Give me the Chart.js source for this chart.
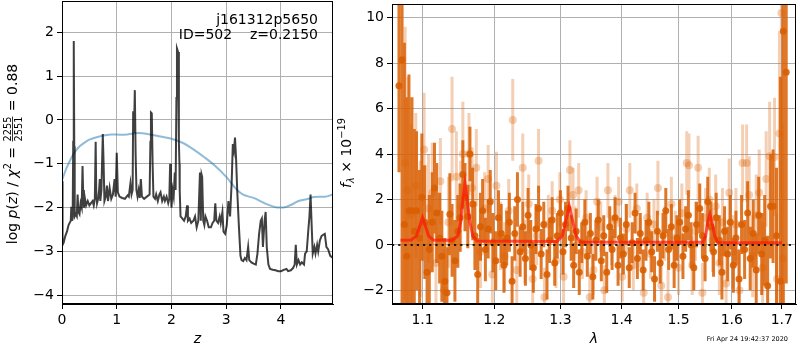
<!DOCTYPE html>
<html>
<head>
<meta charset="utf-8">
<script src="https://cdn.jsdelivr.net/npm/chart.js@4.4.0/dist/chart.umd.min.js"></script>
<style>
  body { margin: 0; background: #fff; }
  #wrap { position: relative; width: 800px; height: 350px; }
  canvas { position: absolute; top: 0; }
  #pz { left: 0; }
  #sp { left: 336px; }
</style>
</head>
<body>
<div id="wrap">
  <canvas id="pz" width="336" height="350"></canvas>
  <canvas id="sp" width="464" height="350"></canvas>
</div>
<script>
// ---- left panel: log p(z) ----
const zPz = [0, 0.01, 0.03, 0.06, 0.09, 0.12, 0.14, 0.16, 0.17, 0.18, 0.195, 0.205, 0.212, 0.218, 0.224, 0.232, 0.25, 0.27, 0.285, 0.3,
  0.32, 0.34, 0.36, 0.375, 0.385, 0.4, 0.42, 0.44, 0.47, 0.5, 0.53, 0.56, 0.58, 0.6, 0.615, 0.625, 0.64, 0.67, 0.69, 0.7,
  0.72, 0.745, 0.76, 0.775, 0.8, 0.82, 0.84, 0.87, 0.9, 0.93, 0.96, 0.98, 1.0, 1.02, 1.05, 1.1, 1.15, 1.18, 1.2, 1.22,
  1.25, 1.27, 1.29, 1.3, 1.315, 1.33, 1.345, 1.36, 1.38, 1.4, 1.42, 1.44, 1.46, 1.5, 1.55, 1.6, 1.615, 1.625, 1.64, 1.655,
  1.67, 1.7, 1.72, 1.75, 1.78, 1.8, 1.83, 1.86, 1.88, 1.91, 1.94, 1.96, 1.975, 1.99, 2.0, 2.02, 2.04, 2.06, 2.075, 2.09,
  2.1, 2.12, 2.135, 2.145, 2.15, 2.165, 2.2, 2.23, 2.26, 2.285, 2.3, 2.33, 2.36, 2.4, 2.43, 2.46, 2.49, 2.52, 2.535, 2.55,
  2.56, 2.58, 2.6, 2.62, 2.65, 2.68, 2.72, 2.75, 2.78, 2.8, 2.82, 2.85, 2.88, 2.9, 2.93, 2.95, 2.98, 3.01, 3.04, 3.07,
  3.1, 3.12, 3.14, 3.16, 3.18, 3.2, 3.23, 3.26, 3.28, 3.31, 3.34, 3.37, 3.4, 3.42, 3.46, 3.5, 3.54, 3.57, 3.6, 3.63,
  3.65, 3.67, 3.7, 3.72, 3.74, 3.77, 3.8, 3.85, 3.9, 3.95, 4.0, 4.05, 4.1, 4.13, 4.18, 4.22, 4.25, 4.27, 4.29, 4.32,
  4.35, 4.38, 4.42, 4.44, 4.47, 4.5, 4.52, 4.54, 4.56, 4.58, 4.61, 4.63, 4.66, 4.68, 4.71, 4.74, 4.77, 4.8, 4.83, 4.86,
  4.9, 4.95];
const logPz = [-1.4, -2.85, -2.8, -2.65, -2.55, -2.4, -2.35, -2.3, -1.98, -2.3, -2.2, -0.5, 1.8, 1.78, -0.6, -2.2, -2.15, -2.2, -1.7, -2.1,
  -2.15, -1.9, -2.0, -1.05, -1.6, -2.0, -1.8, -1.95, -1.85, -1.95, -1.9, -1.85, -1.95, -1.8, -0.5, -1.6, -1.9, -1.75, -1.35, -1.85,
  -1.6, -0.32, -1.0, -1.85, -1.75, -1.5, -1.85, -1.55, -1.8, -1.7, -1.35, -1.75, -0.75, -1.65, -1.75, -1.78, -1.8, -1.75, -1.72, -1.75,
  -1.45, -1.7, -1.6, 0.2, -0.3, 0.68, -0.8, -1.6, -1.75, -1.6, -1.78, -1.35, -1.75, -1.8, -1.75, -1.7, -0.5, 0.17, 0.15, -1.0,
  -1.75, -1.8, -1.7, -1.85, -1.7, -1.65, -1.85, -1.75, -1.85, -1.75, -1.9, -1.8, -1.0, -1.7, -2.0, -1.6, -1.75, -1.2, -1.6, 0.5,
  1.63, 1.55, -0.5, -1.0, -1.6, -2.2, -2.25, -2.3, -2.2, -1.95, -2.3, -2.25, -2.35, -2.3, -2.2, -2.45, -2.3, -1.2, -2.3, -1.25,
  -1.3, -2.3, -2.4, -2.2, -2.3, -2.45, -2.45, -2.35, -2.3, -1.9, -2.3, -2.35, -2.2, -2.35, -2.1, -2.55, -2.6, -2.4, -1.85, -2.2,
  -1.4, -0.55, -0.7, -0.4, -0.9, -1.6, -2.4, -3.1, -3.2, -3.22, -3.15, -3.2, -2.9, -3.2, -3.25, -3.28, -3.3, -3.05, -2.6, -2.3,
  -2.25, -2.9, -2.3, -2.1, -2.9, -3.3, -3.4, -3.42, -3.43, -3.45, -3.45, -3.42, -3.4, -3.45, -3.43, -3.38, -3.3, -2.85, -3.3, -3.2,
  -3.3, -3.25, -3.3, -3.05, -3.0, -2.5, -2.2, -1.7, -2.4, -3.05, -2.9, -3.05, -2.85, -3.0, -2.75, -2.65, -2.62, -2.6, -2.9, -2.95,
  -3.1, -3.15];

const zPrior = [0, 0.05, 0.1, 0.2, 0.3, 0.4, 0.5, 0.7, 0.9, 1.1, 1.2, 1.4, 1.6, 1.8, 2.0, 2.2, 2.4, 2.6, 2.8, 3.0,
  3.2, 3.3, 3.5, 3.7, 3.9, 4.0, 4.1, 4.2, 4.3, 4.5, 4.6, 4.7, 4.8, 4.95];
const logPrior = [-1.38, -1.2, -1.05, -0.8, -0.63, -0.53, -0.45, -0.37, -0.33, -0.34, -0.33, -0.3, -0.33, -0.38, -0.43, -0.52, -0.67, -0.85, -1.05, -1.3,
  -1.6, -1.7, -1.78, -1.9, -1.99, -2.0, -1.98, -1.93, -1.86, -1.8, -1.76, -1.75, -1.75, -1.7];

const zTicks = [0, 1, 2, 3, 4];
const pzTicks = [-4, -3, -2, -1, 0, 1, 2];

// ---- right panel: spectrum ----
const lamA = [1.069, 1.073, 1.076, 1.079, 1.082, 1.086, 1.089, 1.092, 1.096, 1.099, 1.103, 1.106, 1.109, 1.113, 1.116, 1.119, 1.123, 1.126, 1.130, 1.133,
  1.137, 1.140, 1.144, 1.148, 1.151, 1.155, 1.158, 1.162, 1.165, 1.169, 1.172, 1.176, 1.180, 1.183, 1.187, 1.191, 1.194, 1.198, 1.202, 1.206,
  1.210, 1.214, 1.218, 1.222, 1.226, 1.230, 1.234, 1.238, 1.242, 1.246, 1.250, 1.254, 1.258, 1.262, 1.266, 1.270, 1.274, 1.279, 1.283, 1.287,
  1.291, 1.295, 1.300, 1.304, 1.308, 1.312, 1.317, 1.321, 1.325, 1.330, 1.334, 1.339, 1.343, 1.348, 1.352, 1.357, 1.361, 1.366, 1.370, 1.375,
  1.380, 1.384, 1.389, 1.394, 1.398, 1.403, 1.408, 1.413, 1.418, 1.423, 1.427, 1.432, 1.437, 1.442, 1.447, 1.452, 1.457, 1.462, 1.467, 1.472,
  1.477, 1.482, 1.487, 1.492, 1.497, 1.502, 1.508, 1.513, 1.518, 1.523, 1.528, 1.533, 1.539, 1.544, 1.549, 1.554, 1.560, 1.565, 1.570, 1.576,
  1.581, 1.586, 1.592, 1.597, 1.603, 1.608, 1.614, 1.619, 1.625, 1.631, 1.636, 1.642, 1.648, 1.653, 1.659, 1.665, 1.671, 1.677, 1.682, 1.689,
  1.697, 1.703, 1.709];
const fluxA = [7.0, 8.15, 0.9, -0.5, 1.5, 1.5, 0.6, 1.5, 0.3, 2.1, 1.0, -1.2, -0.2, 1.0, 2.5, 1.4, 0.3, -0.5, -1.6, -2.1,
  1.35, 0.2, -0.7, 0.6, 1.2, 3.1, 2.1, 1.25, 4.0, 1.8, 0.4, -1.3, 0.8, 1.5, -0.2, 0.7, 1.9, 0.1, -0.7, 1.2,
  0.5, -0.9, 0.3, 1.0, -1.6, 0.5, 2.0, -0.3, 0.8, -0.6, 1.3, 0.0, -1.0, 0.7, 1.6, -0.4, 0.9, -1.3, 0.2, 1.1,
  -0.8, 0.4, 1.4, -0.3, 0.9, 1.6, 0.3, -0.9, 0.6, -1.2, 0.1, 1.0, -0.5, 0.5, -1.4, 0.2, 1.1, -0.7, 0.4, -1.2,
  0.8, -0.2, 1.2, -0.9, 0.3, -0.4, 0.9, -1.0, 0.1, 1.4, -0.6, 0.5, -1.1, 0.2, 1.0, -0.3, -1.5, 0.6, -0.8, 0.4,
  1.5, -0.2, 0.8, -0.9, 0.3, 1.0, -0.5, 0.7, 1.3, 0.0, -1.0, 0.9, 1.6, 0.4, -0.6, 1.9, 0.8, -0.3, 1.2, 0.2,
  -1.2, 0.6, -0.4, 1.0, -0.9, 0.3, -1.5, 0.9, -0.2, 1.4, -0.6, 0.5, -1.1, 1.3, -0.4, 0.2, -1.8, 1.7, 1.7, 0.4,
  -1.6, 9.4, 7.6];
const errA = [3.8, 11, 8, 7, 6, 5, 4.5, 3.5, 3.0, 2.8, 2.5, 2.2, 2.4, 2.2, 2.0, 2.2, 2.0, 2.0, 1.9, 2.0,
  1.8, 1.6, 1.8, 1.6, 1.5, 1.5, 1.5, 1.4, 1.2, 1.6, 1.5, 1.6, 1.5, 1.4, 1.4, 1.3, 1.4, 1.3, 1.3, 1.2,
  1.3, 1.2, 1.2, 1.3, 1.1, 1.2, 1.2, 1.1, 1.1, 1.2, 1.2, 1.1, 1.1, 1.1, 1.0, 1.1, 1.0, 1.1, 1.0, 1.0,
  1.0, 1.0, 1.0, 1.0, 1.0, 1.0, 1.0, 1.0, 1.0, 1.0, 0.9, 1.0, 0.9, 0.9, 1.0, 0.9, 0.9, 0.9, 0.9, 0.9,
  0.9, 0.9, 0.9, 0.9, 0.9, 0.9, 0.9, 0.9, 0.9, 0.9, 0.9, 0.9, 0.9, 0.9, 0.9, 0.9, 1.0, 0.9, 0.9, 1.0,
  1.0, 0.9, 1.0, 1.0, 1.0, 1.0, 1.0, 1.0, 1.1, 1.0, 1.0, 1.0, 1.1, 1.0, 1.0, 1.1, 1.1, 1.1, 1.1, 1.1,
  1.2, 1.1, 1.2, 1.2, 1.2, 1.2, 1.3, 1.3, 1.3, 1.4, 1.4, 1.5, 1.6, 1.7, 1.8, 2.0, 2.2, 2.3, 2.5, 3.0,
  9, 12, 9.3];

const lamB = [1.077, 1.080, 1.085, 1.091, 1.097, 1.102, 1.108, 1.113, 1.118, 1.124, 1.129, 1.135, 1.140, 1.146, 1.152, 1.155, 1.1636, 1.168, 1.174, 1.180,
  1.186, 1.191, 1.197, 1.203, 1.209, 1.215, 1.221, 1.227, 1.233, 1.242, 1.245, 1.251, 1.257, 1.263, 1.266, 1.275, 1.281, 1.287, 1.293, 1.299,
  1.305, 1.315, 1.320, 1.323, 1.329, 1.335, 1.341, 1.347, 1.353, 1.359, 1.365, 1.371, 1.377, 1.383, 1.389, 1.395, 1.401, 1.408, 1.414, 1.420,
  1.426, 1.432, 1.438, 1.444, 1.450, 1.456, 1.463, 1.469, 1.475, 1.481, 1.487, 1.494, 1.500, 1.506, 1.515, 1.519, 1.525, 1.531, 1.536, 1.544,
  1.550, 1.557, 1.563, 1.569, 1.576, 1.582, 1.589, 1.595, 1.602, 1.608, 1.615, 1.621, 1.629, 1.634, 1.641, 1.648, 1.654, 1.661, 1.668, 1.675,
  1.685, 1.690, 1.695, 1.699, 1.702];
const fluxB = [3.6, 2.4, 1.3, 2.6, 0.7, 4.2, 1.6, 2.3, -0.8, 2.8, -2.0, 1.0, 5.1, 3.0, 1.7, 4.0, 4.0, 2.5, 3.4, -0.3,
  1.6, 2.9, -1.3, 2.6, 0.4, -0.5, 1.5, 5.5, -1.1, 3.4, -0.3, 1.8, -1.5, 0.4, 3.7, -2.3, 0.9, 1.5, -0.7, 2.0,
  -1.4, 3.3, 2.2, 0.5, 2.4, -0.3, 1.2, -2.3, -1.1, 1.9, 0.8, -2.0, 2.4, 0.2, 1.1, 1.9, -1.4, 0.7, 2.4, -0.9,
  1.6, 0.1, -2.1, 1.2, -0.4, 0.9, 2.5, -1.8, 0.5, -2.3, 1.8, 0.3, -1.0, 1.4, 3.6, 3.5, -0.9, 0.6, 3.4, -2.1,
  1.2, 2.0, 0.2, 1.7, -0.8, 1.0, -1.7, 2.3, -0.3, 0.9, -2.0, 3.6, 3.6, 2.2, -0.5, 1.3, 2.3, -1.0, 2.9, 3.9,
  3.87, -1.5, 4.9, 10.2, -0.6];
const errB = [6, 5, 4, 3.2, 3.0, 2.5, 2.4, 2.2, 2.0, 1.9, 1.8, 2.0, 2.3, 2.0, 2.0, 2.3, 1.8, 1.8, 1.7, 1.6,
  1.6, 1.5, 1.6, 1.5, 1.5, 1.5, 1.4, 1.8, 1.5, 1.5, 1.4, 1.3, 1.4, 1.3, 1.4, 1.3, 1.3, 1.3, 1.2, 1.2,
  1.2, 1.3, 1.2, 1.2, 1.2, 1.2, 1.2, 1.1, 1.1, 1.1, 1.1, 1.1, 1.2, 1.1, 1.1, 1.1, 1.1, 1.1, 1.2, 1.1,
  1.1, 1.1, 1.1, 1.1, 1.1, 1.1, 1.2, 1.2, 1.2, 1.2, 1.2, 1.2, 1.2, 1.3, 1.4, 1.4, 1.3, 1.3, 1.4, 1.3,
  1.3, 1.4, 1.4, 1.4, 1.4, 1.5, 1.5, 1.5, 1.6, 1.6, 1.6, 1.7, 1.7, 1.7, 1.8, 1.8, 1.9, 2.0, 2.1, 2.4,
  2.6, 2.9, 4.5, 8, 6];

const lamModel = [1.071, 1.085, 1.092, 1.096, 1.100, 1.104, 1.108, 1.114, 1.140, 1.148, 1.152, 1.155, 1.158, 1.161, 1.165, 1.169, 1.175, 1.295, 1.303, 1.309,
  1.314, 1.319, 1.325, 1.332, 1.545, 1.550, 1.554, 1.558, 1.562, 1.567, 1.573, 1.700];
const fluxModel = [0.2, 0.22, 0.4, 0.8, 1.2, 0.8, 0.4, 0.22, 0.2, 0.4, 1.0, 2.0, 2.7, 2.0, 1.0, 0.4, 0.17, 0.15, 0.4, 1.1,
  1.7, 1.1, 0.4, 0.13, 0.12, 0.4, 1.0, 1.35, 1.0, 0.4, 0.1, 0.1];

const lamTicks = [1.1, 1.2, 1.3, 1.4, 1.5, 1.6, 1.7];
const fluxTicks = [-2, 0, 2, 4, 6, 8, 10];

const FONT = '"DejaVu Sans", sans-serif';
const ORANGE = '217,95,2';

function minus(v) {
  return String(v).replace('-', '\u2212');
}

function errSegments(lam, flux, err) {
  const pts = [];
  lam.forEach((l, i) => {
    pts.push({ x: l, y: flux[i] - err[i] }, { x: l, y: flux[i] + err[i] }, { x: l, y: null });
  });
  return pts;
}

function pairs(xs, ys) {
  return xs.map((x, i) => ({ x: x, y: ys[i] }));
}

// mixed-style text, rotated 90deg, centred on (cx, cy)
function richText(ctx, parts, cx, cy) {
  ctx.save();
  ctx.translate(cx, cy);
  ctx.rotate(-Math.PI / 2);
  ctx.textBaseline = 'alphabetic';
  ctx.textAlign = 'left';
  ctx.fillStyle = '#000';
  let w = 0;
  parts.forEach(p => {
    ctx.font = p.font;
    if (p.frac) {
      p.w = Math.max(ctx.measureText(p.frac[0]).width, ctx.measureText(p.frac[1]).width) + 2;
    } else {
      p.w = ctx.measureText(p.t).width;
    }
    w += p.w;
  });
  let x = -w / 2;
  parts.forEach(p => {
    ctx.font = p.font;
    if (p.frac) {
      ctx.textAlign = 'center';
      ctx.fillText(p.frac[0], x + p.w / 2, -6);
      ctx.fillText(p.frac[1], x + p.w / 2, 4.5);
      ctx.fillRect(x + 1, -4.8, p.w - 2, 0.8);
      ctx.textAlign = 'left';
    } else {
      ctx.fillText(p.t, x, p.dy || 0);
    }
    x += p.w;
  });
  ctx.restore();
}

function frame(chart) {
  const a = chart.chartArea;
  const ctx = chart.ctx;
  ctx.save();
  ctx.strokeStyle = '#000';
  ctx.lineWidth = 1;
  ctx.strokeRect(Math.round(a.left) + 0.5, Math.round(a.top) + 0.5, Math.round(a.right - a.left) - 1, Math.round(a.bottom - a.top) - 1);
  ctx.restore();
}

function axisStyle(extra) {
  return Object.assign({
    bounds: 'data',
    grid: { color: '#b0b0b0', lineWidth: 1, tickColor: '#000', tickLength: 5, drawTicks: true },
    border: { display: true, color: '#000', width: 1 },
    ticks: { color: '#000', font: { family: FONT, size: 14 }, padding: 3, autoSkip: false, maxRotation: 0, callback: v => minus(v) }
  }, extra);
}

// fixed axis boxes so the plot areas land where the reference has them
function fixX(s) { s.height = 46; s.paddingLeft = 0; s.paddingRight = 0; }
function fixY(w) { return s => { s.width = w; s.paddingTop = 0; s.paddingBottom = 0; }; }

const N = '14px ' + FONT;
const I = 'italic 14px ' + FONT;
const S = '9.8px ' + FONT;
const SI = 'italic 9.8px ' + FONT;

const pzLabels = {
  id: 'pzLabels',
  afterDraw(chart) {
    frame(chart);
    const ctx = chart.ctx;
    ctx.save();
    ctx.fillStyle = '#000';
    ctx.font = N;
    ctx.textAlign = 'right';
    ctx.textBaseline = 'middle';
    ctx.fillText('j161312p5650', 318, 20);
    ctx.fillText('ID=502    z=0.2150', 318, 35);
    ctx.restore();
    richText(ctx, [
      { t: 'log ', font: N }, { t: 'p', font: I }, { t: '(', font: N }, { t: 'z', font: I },
      { t: ') / ', font: N }, { t: '\u03c7', font: I }, { t: '2', font: S, dy: -6 }, { t: ' = ', font: N },
      { frac: ['2255', '2551'], font: S }, { t: ' = 0.88', font: N }
    ], 17, 154);
  }
};

const spLabels = {
  id: 'spLabels',
  afterDraw(chart) {
    frame(chart);
    const ctx = chart.ctx;
    richText(ctx, [
      { t: 'f', font: I }, { t: '\u03bb', font: SI, dy: 3 }, { t: ' \u00d7 10', font: N }, { t: '\u221219', font: S, dy: -6 }
    ], 15, 153);
    ctx.save();
    ctx.fillStyle = '#000';
    ctx.font = '6.5px ' + FONT;
    ctx.textAlign = 'right';
    ctx.textBaseline = 'middle';
    ctx.fillText('Fri Apr 24 19:42:37 2020', 452, 339);
    ctx.restore();
  }
};

new Chart(document.getElementById('pz'), {
  type: 'scatter',
  data: {
    datasets: [
      { data: pairs(zPz, logPz), showLine: true, borderColor: 'rgba(0,0,0,0.75)', borderWidth: 2, pointRadius: 0, tension: 0, clip: 0 },
      { data: pairs(zPrior, logPrior), showLine: true, borderColor: 'rgba(31,119,180,0.5)', borderWidth: 2, pointRadius: 0, cubicInterpolationMode: 'monotone', clip: 0 }
    ]
  },
  options: {
    responsive: false,
    animation: false,
    devicePixelRatio: 1,
    layout: { padding: { top: 1, right: 3, left: 0, bottom: 0 } },
    plugins: { legend: { display: false }, tooltip: { enabled: false } },
    scales: {
      x: axisStyle({
        type: 'linear', min: 0, max: 4.95,
        afterBuildTicks: s => { s.ticks = zTicks.map(v => ({ value: v })); },
        afterFit: fixX,
        title: { display: true, text: 'z', color: '#000', font: { family: FONT, size: 14, style: 'italic' }, padding: { top: 0, bottom: 2 } }
      }),
      y: axisStyle({
        type: 'linear', min: -4.2, max: 2.714,
        afterBuildTicks: s => { s.ticks = pzTicks.map(v => ({ value: v })); },
        afterFit: fixY(62)
      })
    }
  },
  plugins: [pzLabels]
});

new Chart(document.getElementById('sp'), {
  type: 'scatter',
  data: {
    datasets: [
      { data: [{ x: 1.06, y: 0 }, { x: 1.7294, y: 0 }], showLine: true, borderColor: 'rgba(0,0,0,0.85)', borderWidth: 2, borderDash: [2.2, 4], pointRadius: 0, clip: 0 },
      { data: pairs(lamModel, fluxModel), showLine: true, borderColor: 'rgba(255,20,10,0.7)', borderWidth: 3, pointRadius: 0, clip: 0 },
      { data: pairs(lamA, fluxA), pointRadius: 3.5, pointBorderWidth: 0, backgroundColor: 'rgba(' + ORANGE + ',0.9)', clip: 0 },
      { data: errSegments(lamA, fluxA, errA), showLine: true, spanGaps: false, borderColor: 'rgba(' + ORANGE + ',0.85)', borderWidth: 3, pointRadius: 0, clip: 0 },
      { data: pairs(lamB, fluxB), pointRadius: 4, pointBorderWidth: 0, backgroundColor: 'rgba(' + ORANGE + ',0.3)', clip: 0 },
      { data: errSegments(lamB, fluxB, errB), showLine: true, spanGaps: false, borderColor: 'rgba(' + ORANGE + ',0.3)', borderWidth: 3, pointRadius: 0, clip: 0 }
    ]
  },
  options: {
    responsive: false,
    animation: false,
    devicePixelRatio: 1,
    layout: { padding: { top: 1, right: 1, left: 0, bottom: 0 } },
    plugins: { legend: { display: false }, tooltip: { enabled: false } },
    scales: {
      x: axisStyle({
        type: 'logarithmic', min: 1.06, max: 1.7294,
        afterBuildTicks: s => { s.ticks = lamTicks.map(v => ({ value: v })); },
        afterFit: fixX,
        ticks: { color: '#000', font: { family: FONT, size: 14 }, padding: 3, autoSkip: false, maxRotation: 0, callback: v => v.toFixed(1) },
        title: { display: true, text: '\u03bb', color: '#000', font: { family: FONT, size: 14, style: 'italic' }, padding: { top: 0, bottom: 2 } }
      }),
      y: axisStyle({
        type: 'linear', min: -2.6, max: 10.6,
        afterBuildTicks: s => { s.ticks = fluxTicks.map(v => ({ value: v })); },
        afterFit: fixY(56)
      })
    }
  },
  plugins: [spLabels]
});
</script>
</body>
</html>
